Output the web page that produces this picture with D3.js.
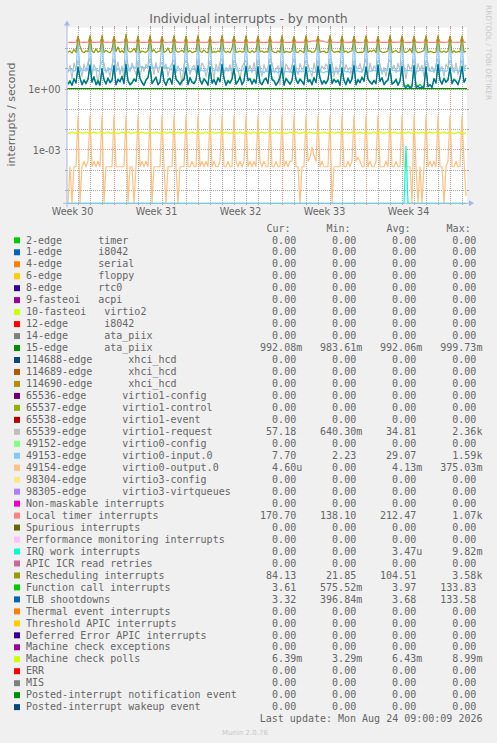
<!DOCTYPE html>
<html><head><meta charset="utf-8">
<script src="https://cdn.jsdelivr.net/npm/d3@7"></script>
<style>
html,body{margin:0;padding:0;background:#f0f0f0;}
svg{display:block;}
text{font-family:"DejaVu Sans",sans-serif;fill:#666;}
.mono{font-family:"DejaVu Sans Mono",monospace;font-size:10px;white-space:pre;}
</style></head><body>
<svg id="c" width="497" height="743"></svg>
<script>
// ---------------- DATA ----------------
const legendNames = [
"2-edge      timer","1-edge      i8042","4-edge      serial","6-edge      floppy","8-edge      rtc0",
"9-fasteoi   acpi","10-fasteoi   virtio2","12-edge      i8042","14-edge      ata_piix","15-edge      ata_piix",
"114688-edge      xhci_hcd","114689-edge      xhci_hcd","114690-edge      xhci_hcd",
"65536-edge      virtio1-config","65537-edge      virtio1-control","65538-edge      virtio1-event",
"65539-edge      virtio1-request","49152-edge      virtio0-config","49153-edge      virtio0-input.0",
"49154-edge      virtio0-output.0","98304-edge      virtio3-config","98305-edge      virtio3-virtqueues",
"Non-maskable interrupts","Local timer interrupts","Spurious interrupts","Performance monitoring interrupts",
"IRQ work interrupts","APIC ICR read retries","Rescheduling interrupts","Function call interrupts",
"TLB shootdowns","Thermal event interrupts","Threshold APIC interrupts","Deferred Error APIC interrupts",
"Machine check exceptions","Machine check polls","ERR","MIS",
"Posted-interrupt notification event","Posted-interrupt wakeup event"];
const legendColors = ["#00cc00","#0066b3","#ff8000","#ffcc00","#330099","#990099","#ccff00","#ff0000","#808080","#008f00",
"#00487d","#b35a00","#b38f00","#6b006b","#8fb300","#b30000","#bebebe","#80ff80","#80c9ff","#ffc080",
"#ffe680","#aa80ff","#ee00cc","#ff8080","#666600","#ffbfff","#00ffcc","#cc6699","#999900","#00cc00",
"#0066b3","#ff8000","#ffcc00","#330099","#990099","#ccff00","#ff0000","#808080","#008f00","#00487d"];
const Z="0.00";
const curVals=[Z,Z,Z,Z,Z,Z,Z,Z,Z,"992.08m",Z,Z,Z,Z,Z,Z,"57.18",Z,"7.70","4.60u",Z,Z,Z,"170.70",Z,Z,Z,Z,"84.13","3.61","3.32",Z,Z,Z,Z,"6.39m",Z,Z,Z,Z];
const minVals=[Z,Z,Z,Z,Z,Z,Z,Z,Z,"983.61m",Z,Z,Z,Z,Z,Z,"640.30m",Z,"2.23",Z,Z,Z,Z,"138.10",Z,Z,Z,Z,"21.85","575.52m","396.84m",Z,Z,Z,Z,"3.29m",Z,Z,Z,Z];
const avgVals=[Z,Z,Z,Z,Z,Z,Z,Z,Z,"992.06m",Z,Z,Z,Z,Z,Z,"34.81",Z,"29.07","4.13m",Z,Z,Z,"212.47",Z,Z,"3.47u",Z,"104.51","3.97","3.68",Z,Z,Z,Z,"6.43m",Z,Z,Z,Z];
const maxVals=[Z,Z,Z,Z,Z,Z,Z,Z,Z,"999.73m",Z,Z,Z,Z,Z,Z,"2.36k",Z,"1.59k","375.03m",Z,Z,Z,"1.07k",Z,Z,"9.82m",Z,"3.58k","133.83","133.58",Z,Z,Z,Z,"8.99m",Z,Z,Z,Z];
const colHeaders=["Cur:","Min:","Avg:","Max:"];

// time axis (hours from graph start; graph spans 800 h)
const weekLabels=["Week 30","Week 31","Week 32","Week 33","Week 34"];
const weekLabelHours=[10,178,346,514,682];
const weekStartHours=[94,262,430,598,766];
const yTickValues=[1,1e-3];
const yTickLabels=["1e+00","1e-03"];

// samples every 4 h starting at hour 2 (200 values)
const localTimer=[
190,186,192,188,194,345, 196,188,191,186,190,352, 188,192,186,195,189,360, 191,187,193,190,186,340,
194,189,187,192,190,372, 188,195,190,186,193,350, 190,186,192,189,191,345, 187,193,188,191,186,358,
192,188,190,195,187,350, 189,191,186,190,193,342, 186,190,194,188,191,355, 193,187,190,186,189,348,
188,192,187,193,190,362, 190,186,191,188,194,350, 187,193,189,190,186,344, 191,188,192,187,190,356,
189,194,188,191,187,350, 186,190,193,189,192,346, 192,187,190,186,191,360, 188,191,187,194,189,352,
190,205,218,225,210,347, 214,222,208,196,188,355, 187,192,190,186,193,350, 191,188,189,192,187,343,
189,193,187,190,191,358, 186,190,192,188,190,350, 193,187,191,189,186,346, 188,192,186,193,190,362,
190,189,193,187,191,350, 187,191,188,190,194,345, 192,186,190,189,187,356, 189,193,187,191,190,348,
186,190,192,188,193,352, 190,188];
const rescheduling=[
62,70,55,85,60,380, 120,66,58,72,64,400, 70,58,90,62,68,420, 60,75,64,58,80,370,
66,110,60,72,58,480, 72,62,68,95,60,390, 58,70,64,60,74,410, 64,82,58,66,70,360,
60,68,100,58,62,400, 70,62,66,76,60,380, 62,74,58,64,68,420, 68,60,80,62,58,370,
58,66,62,70,64,410, 72,60,68,58,90,380, 60,64,70,62,66,400, 66,58,74,60,68,390,
64,70,60,66,62,380, 70,62,58,72,60,420, 58,68,64,60,70,370, 62,60,76,66,58,400,
68,72,60,64,85,380, 60,66,70,58,62,410, 74,60,64,68,60,390, 62,70,58,66,72,380,
66,58,62,60,68,400, 60,72,66,80,58,370, 68,62,60,64,70,420, 58,66,74,60,62,390,
64,60,68,90,58,380, 70,58,62,66,74,400, 60,68,64,58,62,410, 66,62,70,60,68,380,
58,72,60,66,64,390, 62,68];
const virtio1Request=[
6,14,3,18,8,25, 12,4,16,7,20,30, 5,15,9,1.5,12,22, 18,6,11,4,14,28,
8,20,5,13,3,26, 15,7,18,9,5,24, 4,12,7,16,10,30, 14,5,19,6,12,20,
9,16,4,11,18,26, 6,13,8,1.5,15,24, 17,5,10,14,6,28, 7,18,12,4,9,22,
13,3,16,8,20,30, 5,11,7,15,4,25, 16,9,3,12,18,24, 8,14,6,19,5,26,
12,4,15,7,11,28, 18,6,9,13,1.5,22, 4,16,11,6,14,30, 10,5,17,8,12,24,
15,7,4,18,6,26, 6,13,9,16,11,28, 19,4,12,5,15,22, 7,15,8,11,3,25,
12,9,17,6,14,30, 4,18,7,13,9,24, 16,5,11,4,17,26, 9,14,6,18,7,22,
13,3,16,9,12,28, 5,17,8,14,4,24, 18,7,12,6,15,30, 8,12,4,16,10,25,
14,6,18,5,11,26, 9,15];
const virtio0Input=[
8,7.5,9,7,8,260, 7,8.5,7.5,9,8,240, 7.5,8,10,7,8.5,280, 8,7,8,9.5,7.5,250,
7,9,8,7.5,8,290, 8.5,7.5,12,11,10,260, 11,12,10.5,11,12,270, 10,11.5,12,10,11,250,
12,10,11,9,8,280, 7,8,9,7.5,8,260, 8,7,8.5,9,7.5,250, 7.5,8,7,8,9,280,
8,7.5,9,7,8,240, 7,8,7.5,8.5,8,260, 8.5,7,8,7.5,9,250, 7,8,7,8,7.5,280,
6.5,7,6,7.5,6.5,260, 7,6.5,7,6,7,250, 6.5,7,6.5,7,6,280, 7,6,7.5,6.5,7,240,
6.5,7.5,7,6,7,260, 7,6.5,6,7,6.5,255, 6,7,6.5,7.5,7,280, 7.5,6.5,7,6,7,250,
7,7.5,6.5,7,8,260, 8,7,7.5,8,7,265, 7.5,8,7,8.5,7.5,250, 8,7.5,8,7,8,280,
7,8,7.5,8,7,240, 7.5,7,8,7.5,8,260, 8,7.5,7,8,7.5,250, 7,8,7.5,7,8,280,
7.5,7,8,7.5,7,260, 7.7,7.7];
const functionCall=[
1.8,2.5,1.5,3.2,2.0,12, 3.5,1.6,2.8,1.9,3.0,15, 2.2,4.0,1.7,2.6,1.5,10, 2.9,1.8,3.4,2.1,2.7,14,
1.6,3.0,2.3,4.2,1.9,16, 2.6,1.7,2.0,3.1,2.4,11, 3.3,2.1,1.6,2.8,3.6,13, 1.9,2.7,3.8,1.7,2.2,12,
2.4,1.6,2.9,3.3,1.8,15, 3.1,2.3,1.7,2.5,3.0,11, 1.7,3.6,2.2,1.9,2.8,14, 2.8,1.8,3.2,2.4,1.6,12,
2.0,2.9,1.7,3.5,2.3,16, 3.4,1.6,2.6,2.0,3.1,10, 1.8,2.4,3.9,1.7,2.5,13, 2.7,3.2,1.8,2.9,2.0,12,
2.1,1.7,2.8,3.4,1.9,15, 3.0,2.5,1.6,2.2,3.7,11, 1.6,3.3,2.4,1.8,2.6,14, 2.9,1.9,3.1,2.3,1.7,12,
2.3,2.8,1.7,3.6,2.1,13, 3.5,1.8,2.5,1.9,2.9,16, 1.9,3.0,2.2,2.7,1.6,11, 2.6,1.7,3.4,2.0,3.2,14,
1.7,2.9,2.1,3.8,2.4,12, 3.1,2.2,1.8,2.6,1.9,15, 2.4,3.5,1.7,2.3,2.8,10, 1.8,2.1,3.0,1.6,2.5,13,
1.5,1.3,1.6,1.2,1.4,14, 1.5,1.3,1.6,1.2,1.4,12, 1.3,1.6,1.2,3.2,2.0,16, 2.7,1.8,3.3,2.2,2.9,11,
1.9,3.0,2.4,1.7,3.5,13, 2.2,2.6];
const tlbShootdowns=[
1.6,2.2,1.4,2.9,1.8,11, 3.2,1.5,2.5,1.7,2.7,14, 2.0,3.6,1.5,2.3,1.4,9, 2.6,1.6,3.1,1.9,2.4,13,
1.5,2.7,2.1,3.8,1.7,15, 2.3,1.5,1.8,2.8,2.2,10, 3.0,1.9,1.4,2.5,3.3,12, 1.7,2.4,3.4,1.5,2.0,11,
2.2,1.4,2.6,3.0,1.6,14, 2.8,2.1,1.5,2.3,2.7,10, 1.5,3.3,2.0,1.7,2.5,13, 2.5,1.6,2.9,2.2,1.4,11,
1.8,2.6,1.5,3.2,2.1,15, 3.1,1.4,2.3,1.8,2.8,9, 1.6,2.2,3.5,1.5,2.3,12, 2.4,2.9,1.6,2.6,1.8,11,
1.9,1.5,2.5,3.1,1.7,14, 2.7,2.3,1.4,2.0,3.4,10, 1.4,3.0,2.2,1.6,2.4,13, 2.6,1.7,2.8,2.1,1.5,11,
2.1,2.5,1.5,3.3,1.9,12, 3.2,1.6,2.3,1.7,2.6,15, 1.7,2.7,2.0,2.4,1.4,10, 2.4,1.5,3.1,1.8,2.9,13,
1.5,2.6,1.9,3.5,2.2,11, 2.8,2.0,1.6,2.4,1.7,14, 2.2,3.2,1.5,2.1,2.5,9, 1.6,1.9,2.7,1.4,2.3,12,
1.3,1.1,1.4,1.05,1.2,13, 1.1,1.3,1.05,1.2,1.1,11, 1.2,1.5,1.1,2.9,1.8,15, 2.5,1.6,3.0,2.0,2.6,10,
1.7,2.7,2.2,1.5,3.2,12, 2.0,3.3];
// values in units of 1e-4
const virtio0OutputE4=[
0,1.4,0,1.4,1.4,450, 0,1.4,2.6,1.4,2.6,450, 1.4,2.6,1.4,2.6,1.4,450, 0,1.4,1.4,1.4,1.4,450,
1.4,1.4,1.4,1.4,1.4,450, 0,1.4,1.4,0,1.4,450, 1.4,2.6,1.4,2.6,1.4,450, 0,1.4,1.4,1.4,1.4,450,
1.4,0,1.4,1.4,1.4,450, 1.4,0,1.4,1.4,1.4,450, 1.4,1.4,2.6,1.4,1.4,450, 1.4,2.6,1.4,2.6,1.4,450,
1.4,2.6,1.4,1.4,2.6,450, 1.4,1.4,2.6,1.4,1.4,450, 2.6,1.4,2.6,1.4,2.6,450, 1.4,2.6,1.4,2.6,1.4,450,
2.6,1.4,2.6,1.4,1.4,450, 1.4,1.4,2.6,1.4,1.4,450, 1.4,2.6,1.4,2.6,2.6,450, 1.4,1.4,0,1.4,1.4,450,
2.6,4,13,5,2.6,450, 1.4,2.6,1.4,1.4,1.4,450, 0,1.4,1.4,1.4,1.4,450, 1.4,1.4,2.6,1.4,2.6,450,
2.6,4,2.6,1.4,1.4,450, 1.4,2.6,1.4,1.4,2.6,450, 1.4,1.4,1.4,2.6,1.4,450, 1.4,1.4,2.6,1.4,1.4,450,
1.4,1.4,1.4,1.4,0,450, 1.4,0,1.4,0,1.4,450, 1.4,2.6,1.4,2.6,1.4,450, 1.4,1.4,0,1.4,2.6,450,
1.4,1.4,2.6,1.4,1.4,450, 2.6,0.05];
// values in units of 1e-3
const machineCheckPollsE3=[
6.4,6.4,7.2,6.4,6.4,6.4,7.2,6.4,6.4,7.2,6.4,6.4,6.4,7.2,6.4,6.4,7.2,6.4,6.4,6.4,
7.2,6.4,6.4,7.2,6.4,6.4,6.4,7.2,6.4,6.4,7.2,6.4,6.4,6.4,7.2,6.4,6.4,7.2,6.4,6.4,
6.4,7.2,6.4,6.4,7.2,6.4,6.4,6.4,7.2,6.4,6.4,7.2,6.4,6.4,6.4,7.2,6.4,6.4,7.2,6.4,
6.4,6.4,7.2,6.4,6.4,7.2,6.4,6.4,6.4,7.2,6.4,6.4,7.2,6.4,6.4,6.4,7.2,6.4,6.4,7.2,
6.4,6.4,6.4,7.2,6.4,6.4,7.2,6.4,6.4,6.4,7.2,6.4,6.4,7.2,6.4,6.4,6.4,7.2,6.4,6.4,
7.2,6.4,6.4,6.4,7.2,6.4,6.4,7.2,6.4,6.4,6.4,7.2,6.4,6.4,7.2,6.4,6.4,6.4,7.2,6.4,
6.4,7.2,6.4,6.4,6.4,7.2,6.4,6.4,7.2,6.4,6.4,6.4,7.2,6.4,6.4,7.2,6.4,6.4,6.4,7.2,
6.4,6.4,7.2,6.4,6.4,6.4,7.2,6.4,6.4,7.2,6.4,6.4,6.4,7.2,6.4,6.4,7.2,6.4,6.4,6.4,
7.2,6.4,6.4,7.2,6.4,6.4,6.4,7.2,6.4,6.4,7.2,6.4,6.4,6.4,7.2,6.4,6.4,7.2,6.4,6.4,
6.4,7.2,6.4,6.4,7.2,6.4,6.4,6.4,7.2,6.4,6.4,7.2,6.4,6.4,6.4,7.2,6.4,6.4,6.4,6.4];
// values in units of 1e-4
const irqWorkE4=[
0,0,0,0,0,0,0,0,0,0,0,0,0,0,0,0,0,0,0,0, 0,0,0,0,0,0,0,0,0,0,0,0,0,0,0,0,0,0,0,0,
0,0,0,0,0,0,0,0,0,0,0,0,0,0,0,0,0,0,0,0, 0,0,0,0,0,0,0,0,0,0,0,0,0,0,0,0,0,0,0,0,
0,0,0,0,0,0,0,0,0,0,0,0,0,0,0,0,0,0,0,0, 0,0,0,0,0,0,0,0,0,0,0,0,0,0,0,0,0,0,0,0,
0,0,0,0,0,0,0,0,0,0,0,0,0,0,0,0,0,0,0,0, 0,0,0,0,0,0,0,0,0,0,0,0,0,0,0,0,0,0,0,0,
0,0,0,0,0,0,0,0,0,14,0,0,0,0,0,0,0,0,0,0, 0,0,0,0,0,0,0,0,0,0,0,0,0,0,0,0,0,0,0,0];
// daily samples starting at hour 0
const ataPiix15=[0.992,0.992,0.991,0.992,0.993,0.992,0.992,0.991,0.992,0.992,0.993,0.992,0.992,0.991,0.992,0.992,0.992,0.993,
0.992,0.991,0.992,0.992,0.992,0.993,0.992,0.992,0.991,0.992,0.992,0.992,0.993,0.992,0.992,0.992,0.992];

// ---------------- LAYOUT ----------------
const W=497,H=743, X0=67,X1=467, YT=27.6, YB=203.3, HOURS=800;
const FONT="#666666", AXIS="#aab6e4";
const x=d3.scaleLinear().domain([0,HOURS]).range([X0,X1]);
const y=d3.scaleLog().domain([2.22e-6,1000]).range([YB,YT]).clamp(true);

const series=[ // legend index, values, unit, step(h), start(h)
 {i:9, v:ataPiix15, u:1, step:24, t0:0},
 {i:16,v:virtio1Request,u:1,step:4,t0:2},
 {i:18,v:virtio0Input,u:1,step:4,t0:2},
 {i:19,v:virtio0OutputE4,u:1e-4,step:4,t0:2},
 {i:23,v:localTimer,u:1,step:4,t0:2},
 {i:26,v:irqWorkE4,u:1e-4,step:4,t0:2},
 {i:28,v:rescheduling,u:1,step:4,t0:2},
 {i:29,v:functionCall,u:1,step:4,t0:2},
 {i:30,v:tlbShootdowns,u:1,step:4,t0:2},
 {i:35,v:machineCheckPollsE3,u:1e-3,step:4,t0:2}
];

const svg=d3.select("#c");
svg.append("rect").attr("width",W).attr("height",H).attr("fill","#f0f0f0");
svg.append("rect").attr("x",X0).attr("y",YT).attr("width",X1-X0).attr("height",YB-YT).attr("fill","#ffffff");

// grid
const grid=svg.append("g").attr("shape-rendering","crispEdges");
const GRIDC="rgba(143,143,143,0.75)", MGRIDC="rgba(222,79,79,0.6)";
const minorY=[1e2,1e1,1e-1,1e-2,1e-4,1e-5];
function hline(v,c){const yy=Math.round(y(v))+0.5;
  grid.append("line").attr("x1",X0).attr("x2",X1).attr("y1",yy).attr("y2",yy).attr("stroke",c).attr("stroke-dasharray","1,1");
  grid.append("line").attr("x1",X0-2).attr("x2",X0).attr("y1",yy).attr("y2",yy).attr("stroke",c);
  grid.append("line").attr("x1",X1).attr("x2",X1+2).attr("y1",yy).attr("y2",yy).attr("stroke",c);}
function vline(h,c){const xx=Math.round(x(h))+0.5;
  grid.append("line").attr("x1",xx).attr("x2",xx).attr("y1",YT).attr("y2",YB).attr("stroke",c).attr("stroke-dasharray","1,1");
  grid.append("line").attr("x1",xx).attr("x2",xx).attr("y1",YB).attr("y2",YB+2).attr("stroke",c);
  grid.append("line").attr("x1",xx).attr("x2",xx).attr("y1",YT-2).attr("y2",YT).attr("stroke",c);}
minorY.forEach(v=>hline(v,GRIDC));
d3.range(22,HOURS,24).filter(h=>!weekStartHours.includes(h)).forEach(h=>vline(h,GRIDC));
yTickValues.forEach(v=>hline(v,MGRIDC));
weekStartHours.forEach(h=>vline(h,MGRIDC));

// series
svg.append("clipPath").attr("id","pc").append("rect").attr("x",X0).attr("y",YT).attr("width",X1-X0).attr("height",YB-YT+1);
const lineGen=d3.line().x(d=>x(d.t)).y(d=>d.v>0?y(d.v):YB);
const lg=svg.append("g").attr("clip-path","url(#pc)");
series.forEach(s=>{
  const pts=s.v.map((val,k)=>({t:s.t0+k*s.step, v:val*s.u}));
  lg.append("path").datum(pts).attr("d",lineGen).attr("fill","none")
    .attr("stroke",legendColors[s.i]).attr("stroke-width",1.2).attr("stroke-linejoin","round");
});

// axes lines + arrows
svg.append("line").attr("x1",X0-4).attr("x2",X1+4).attr("y1",YB).attr("y2",YB).attr("stroke",AXIS).attr("stroke-width",1);
svg.append("line").attr("x1",X0).attr("x2",X0).attr("y1",YB+4).attr("y2",YT-4).attr("stroke",AXIS).attr("stroke-width",1);
svg.append("path").attr("d",`M${X1+2},${YB-3}L${X1+2},${YB+3}L${X1+7},${YB}Z`).attr("fill",AXIS);
svg.append("path").attr("d",`M${X0-3},${YT-2}L${X0+3},${YT-2}L${X0},${YT-7}Z`).attr("fill",AXIS);

// axis labels using d3 axes
const xAxis=d3.axisBottom(x).tickValues(weekLabelHours).tickSize(0).tickPadding(0)
  .tickFormat((d,k)=>weekLabels[k]);
const gx=svg.append("g").attr("transform",`translate(0,${YB})`).call(xAxis);
gx.select(".domain").remove();
gx.selectAll("text").attr("y",12.2).attr("dy",null).attr("fill",FONT)
  .style("font-family","'DejaVu Sans'").style("font-size","9.6px");
const yAxis=d3.axisLeft(y).tickValues(yTickValues).tickSize(0).tickPadding(0)
  .tickFormat((d,k)=>yTickLabels[k]);
const gy=svg.append("g").attr("transform",`translate(60.5,0)`).call(yAxis);
gy.select(".domain").remove();
gy.selectAll("text").attr("x",0).attr("dy","0.42em").attr("fill",FONT)
  .style("font-family","'DejaVu Sans'").style("font-size","9.6px");

// title and labels
svg.append("text").attr("x",248.5).attr("y",23.2).attr("text-anchor","middle")
  .style("font-size","12.5px").attr("fill",FONT).text("Individual interrupts - by month");
svg.append("text").attr("transform",`translate(15,114.5) rotate(-90)`).attr("text-anchor","middle")
  .style("font-size","11px").attr("fill",FONT).text("interrupts / second");
svg.append("text").attr("transform",`translate(485.5,5) rotate(90)`).attr("text-anchor","start")
  .style("font-size","7.4px").style("fill","#c8c8c8").text("RRDTOOL / TOBI OETIKER");

// legend
const L0=243.5, LS=11.97, colEnd=[296.2,356.2,416.2,476.4];
const leg=svg.append("g");
colHeaders.forEach((h,k)=>leg.append("text").attr("class","mono").attr("x",colEnd[k]-5.7).attr("y",L0-12)
  .attr("text-anchor","end").text(h));
const cols=[curVals,minVals,avgVals,maxVals];
legendNames.forEach((n,i)=>{
  const by=L0+i*LS;
  leg.append("rect").attr("x",14).attr("y",by-6.2).attr("width",6).attr("height",6).attr("fill",legendColors[i]);
  leg.append("text").attr("class","mono").attr("x",26).attr("y",by).text(n);
  cols.forEach((arr,k)=>{
    const s=arr[i]; const m=s.match(/^([0-9.]+)([a-zA-Z]?)$/);
    leg.append("text").attr("class","mono").attr("x",colEnd[k]).attr("y",by).attr("text-anchor","end").text(m[1]);
    if(m[2]) leg.append("text").attr("class","mono").attr("x",colEnd[k]).attr("y",by).text(m[2]);
  });
});
leg.append("text").attr("class","mono").attr("x",482.5).attr("y",L0+40*LS-0.6).attr("text-anchor","end")
  .text("Last update: Mon Aug 24 09:00:09 2026");
svg.append("text").attr("x",245).attr("y",735).attr("text-anchor","middle")
  .style("font-size","7px").style("fill","#c8c8c8").text("Munin 2.0.76");
</script>
</body></html>
